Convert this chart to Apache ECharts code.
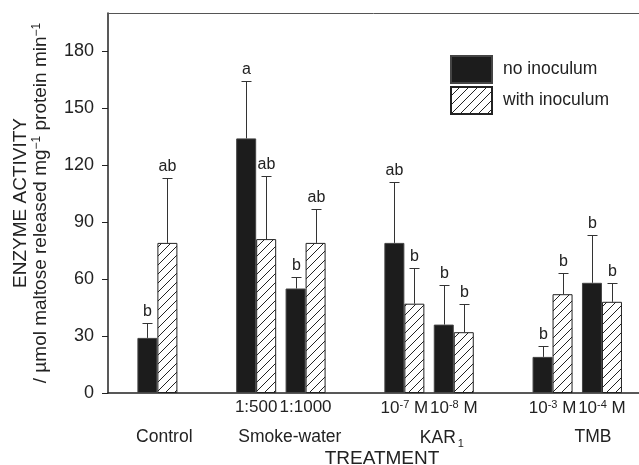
<!DOCTYPE html>
<html>
<head>
<meta charset="utf-8">
<script src="https://cdn.jsdelivr.net/npm/echarts@6/dist/echarts.min.js"></script>
<style>
  html, body { margin: 0; padding: 0; background: #fff; }
  #chart { width: 639px; height: 465px; }
</style>
</head>
<body>
<div id="chart"></div>
<script>
// slot positions on the x axis (empty slots separate the treatment groups)
const slots = [1, 3, 4, 6, 7, 9, 10];
const subLabels = ["", "1:500", "1:1000", "10{sup|-7} M", "10{sup|-8} M", "10{sup|-3} M", "10{sup|-4} M"];
const groupPos = [1.14, 3.68, 6.76, 9.82];
const groupLabels = ["Control", "Smoke-water", "KAR{sub|1}", "TMB"];

const noInoculum = [29, 134, 55, 79, 36, 19, 58];
const noInoculumErr = [37, 164, 61, 111, 57, 25, 83];
const noInoculumLetters = ["b", "a", "b", "ab", "b", "b", "b"];

const withInoculum = [79, 81, 79, 47, 32, 52, 48];
const withInoculumErr = [113, 114, 97, 66, 47, 63, 58];
const withInoculumLetters = ["ab", "ab", "ab", "b", "b", "b", "b"];

const yTicks = [0, 30, 60, 90, 120, 150, 180];

const FONT = "Liberation Sans";
const TXT = "#222";

// diagonal hatch pattern
const P = 9;
const hatch = document.createElement("canvas");
hatch.width = P;
hatch.height = P;
(function () {
  const ctx = hatch.getContext("2d");
  ctx.fillStyle = "#fff";
  ctx.fillRect(0, 0, P, P);
  ctx.strokeStyle = "#222";
  ctx.lineWidth = 1;
  ctx.beginPath();
  ctx.moveTo(-1, P + 1); ctx.lineTo(P + 1, -1);
  ctx.moveTo(-P - 1, 1); ctx.lineTo(1, -P - 1);
  ctx.moveTo(P - 1, 2 * P + 1); ctx.lineTo(2 * P + 1, P - 1);
  ctx.stroke();
})();

const BAR_W = 20;

function pick(list, positions, value) {
  let best = 0;
  positions.forEach((p, i) => {
    if (Math.abs(p - value) < Math.abs(positions[best] - value)) best = i;
  });
  return list[best];
}

function errorSeries(name, vals, errs, letters, dx) {
  return {
    type: "custom",
    name: name + " err",
    xAxisIndex: 0,
    yAxisIndex: 0,
    z: 5,
    silent: true,
    data: slots.map((s, i) => [s, vals[i], errs[i]]),
    renderItem: function (params, api) {
      const base = api.coord([api.value(0), api.value(1)]);
      const top = api.coord([api.value(0), api.value(2)]);
      const x = Math.round(base[0] + dx) + 0.5;
      const ty = Math.round(top[1]) + 0.5;
      return {
        type: "group",
        children: [
          { type: "line", shape: { x1: x, y1: base[1], x2: x, y2: ty }, style: { stroke: "#333", lineWidth: 1 } },
          { type: "line", shape: { x1: x - 5, y1: ty, x2: x + 5, y2: ty }, style: { stroke: "#333", lineWidth: 1 } },
          {
            type: "text",
            style: {
              text: letters[params.dataIndex],
              x: x,
              y: ty - 4,
              align: "center",
              verticalAlign: "bottom",
              fontFamily: FONT,
              fontSize: 16,
              fill: TXT
            }
          }
        ]
      };
    }
  };
}

const chart = echarts.init(document.getElementById("chart"));

const option = {
  animation: false,
  backgroundColor: "#fff",
  textStyle: { fontFamily: FONT },
  grid: { left: 108, right: 0, top: 13, bottom: 72, outerBoundsMode: "none", containLabel: false },
  legend: {
    data: ["no inoculum", "with inoculum"],
    orient: "vertical",
    left: 445,
    top: 50,
    itemWidth: 41,
    itemHeight: 27,
    itemGap: 2,
    icon: "rect",
    selectedMode: false,
    textStyle: { fontFamily: FONT, fontSize: 17.5, color: TXT, padding: [0, 0, 0, 6] }
  },
  xAxis: [
    {
      type: "value",
      min: 0,
      max: 10.75,
      position: "bottom",
      splitLine: { show: false },
      axisLine: { show: true, lineStyle: { color: "#222", width: 1.5 } },
      axisTick: { show: false },
      axisLabel: {
        customValues: slots.slice(1),
        margin: 6,
        fontFamily: FONT,
        fontSize: 17,
        color: TXT,
        formatter: v => pick(subLabels, slots, v),
        rich: {
          sup: { fontSize: 11, verticalAlign: "top", padding: [0, 0, 8, 0], fontFamily: FONT, color: TXT }
        }
      }
    },
    {
      type: "value",
      min: 0,
      max: 10.75,
      position: "bottom",
      offset: 30,
      splitLine: { show: false },
      axisLine: { show: false },
      axisTick: { show: false },
      axisLabel: {
        customValues: groupPos,
        margin: 5,
        fontFamily: FONT,
        fontSize: 17.5,
        color: TXT,
        formatter: v => pick(groupLabels, groupPos, v),
        rich: {
          sub: { fontSize: 11, verticalAlign: "bottom", padding: [10, 0, 0, 2], fontFamily: FONT, color: TXT }
        }
      },
      name: "TREATMENT",
      nameLocation: "middle",
      nameGap: 26,
      nameMoveOverlap: false,
      nameTextStyle: { fontFamily: FONT, fontSize: 19, color: TXT, padding: [0, 0, 0, 17] }
    },
    {
      type: "value",
      min: 0,
      max: 10.75,
      position: "top",
      splitLine: { show: false },
      axisLine: { show: true, lineStyle: { color: "#555", width: 1 } },
      axisTick: { show: false },
      axisLabel: { show: false }
    }
  ],
  yAxis: {
    type: "value",
    min: 0,
    max: 200,
    splitLine: { show: false },
    axisLine: { show: true, lineStyle: { color: "#222", width: 1.5 } },
    axisTick: { show: true, inside: false, length: 6, customValues: yTicks, lineStyle: { color: "#222" } },
    axisLabel: { customValues: yTicks, margin: 14, fontFamily: FONT, fontSize: 18, color: TXT },
    name: "{a|ENZYME ACTIVITY}\n{a|/ µmol maltose released mg}{s|−1}{a| protein min}{s|−1}",
    nameLocation: "middle",
    nameRotate: 90,
    nameGap: 57,
    nameMoveOverlap: false,
    nameTextStyle: {
      align: "center",
      rich: {
        a: { fontFamily: FONT, fontSize: 19, color: TXT, lineHeight: 20 },
        s: { fontFamily: FONT, fontSize: 12, color: TXT, verticalAlign: "top", lineHeight: 20, padding: [0, 0, 8, 0] }
      }
    }
  },
  series: [
    {
      name: "no inoculum",
      type: "bar",
      xAxisIndex: 0,
      barWidth: BAR_W,
      barGap: "0%",
      data: slots.map((s, i) => [s, noInoculum[i]]),
      itemStyle: { color: "#1c1c1c", borderColor: "#444", borderWidth: 1 }
    },
    {
      name: "with inoculum",
      type: "bar",
      xAxisIndex: 0,
      barWidth: BAR_W,
      barGap: "0%",
      data: slots.map((s, i) => [s, withInoculum[i]]),
      itemStyle: { color: { image: hatch, repeat: "repeat" }, borderColor: "#222", borderWidth: 1 }
    },
    errorSeries("no inoculum", noInoculum, noInoculumErr, noInoculumLetters, -BAR_W / 2),
    errorSeries("with inoculum", withInoculum, withInoculumErr, withInoculumLetters, BAR_W / 2)
  ]
};

chart.setOption(option);
</script>
</body>
</html>
